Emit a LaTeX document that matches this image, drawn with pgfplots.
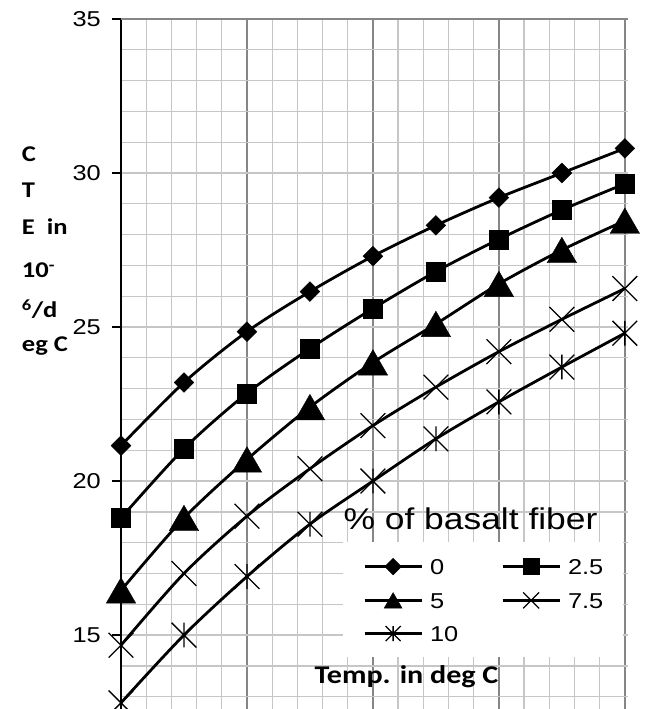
\documentclass[border=0pt]{standalone}
\usepackage{fontspec}
\setmainfont[FakeStretch=1.18]{Liberation Sans}
\newfontfamily\calfont[FakeStretch=1.18]{Carlito}
\usepackage{pgfplots}
\pgfplotsset{compat=1.18}
\usepackage{pgfplotstable}

\definecolor{gridlight}{RGB}{198,198,198}
\definecolor{gridmajor}{RGB}{134,134,134}

\pgfdeclareplotmark{xstar}{%
  \pgfpathmoveto{\pgfqpoint{-.7071\pgfplotmarksize}{-.7071\pgfplotmarksize}}%
  \pgfpathlineto{\pgfqpoint{.7071\pgfplotmarksize}{.7071\pgfplotmarksize}}%
  \pgfpathmoveto{\pgfqpoint{-.7071\pgfplotmarksize}{.7071\pgfplotmarksize}}%
  \pgfpathlineto{\pgfqpoint{.7071\pgfplotmarksize}{-.7071\pgfplotmarksize}}%
  \pgfpathmoveto{\pgfqpoint{0pt}{-.7071\pgfplotmarksize}}%
  \pgfpathlineto{\pgfqpoint{0pt}{.7071\pgfplotmarksize}}%
  \pgfusepathqstroke}

\pgfplotstableread{
x y
0 21.15
1 23.2
2 24.85
3 26.15
4 27.3
5 28.3
6 29.2
7 30.0
8 30.8
}\sA
\pgfplotstableread{
x y
0 18.8
1 21.05
2 22.85
3 24.3
4 25.6
5 26.8
6 27.85
7 28.8
8 29.65
}\sB
\pgfplotstableread{
x y
0 16.45
1 18.8
2 20.7
3 22.4
4 23.85
5 25.1
6 26.4
7 27.5
8 28.45
}\sC
\pgfplotstableread{
x y
0 14.67
1 17.0
2 18.86
3 20.4
4 21.8
5 23.05
6 24.2
7 25.25
8 26.25
}\sD
\pgfplotstableread{
x y
0 12.8
1 15.0
2 16.9
3 18.6
4 20.0
5 21.37
6 22.57
7 23.7
8 24.8
}\sE

\begin{document}
\begin{tikzpicture}
\begin{axis}[
  name=ax,
  scale only axis,
  width=507pt, height=690pt,
  xmin=0, xmax=8.05,
  ymin=12.6, ymax=35,
  axis line style={draw=none},
  xtick={2,4,6,8},
  xticklabels={},
  minor xtick={0.4,0.8,1.2,1.6,2.4,2.8,3.2,3.6,4.4,4.8,5.2,5.6,6.4,6.8,7.2,7.6},
  xmajorgrids, xminorgrids,
  ytick={15,20,25,30},
  minor ytick={13,14,15,16,17,18,19,20,21,22,23,24,25,26,27,28,29,30,31,32,33,34},
  ymajorgrids=false, yminorgrids,
  major grid style={gridmajor, line width=1.3pt},
  minor grid style={gridlight, line width=1.3pt},
  xtick style={draw=none},
  ytick style={black, line width=1.3pt},
  ytick pos=left,
  tick align=outside,
  major tick length=9pt,
  minor tick length=0pt,
  /pgf/number format/assume math mode=true,
  yticklabel style={font=\fontsize{21.5}{21.5}\selectfont, inner sep=0pt, xshift=-11pt},
  extra x ticks={0},
  extra x tick labels={},
  extra x tick style={grid=major, major grid style={black, line width=1.6pt}},
  extra y ticks={35},
  extra y tick style={grid=major, major grid style={gridmajor, line width=1.6pt}},
  legend image code/.code={\draw[mark repeat=2,mark phase=2] plot coordinates {(0pt,0pt) (28.5pt,0pt) (57pt,0pt)};},
  legend columns=2,
  legend cell align=left,
  legend style={
    at={(axis description cs:0.4379,0.2420)}, anchor=north west,
    fill=white, draw=none,
    inner xsep=20pt, inner ysep=16pt,
    column sep=7pt, row sep=17.5pt,
    nodes={inner sep=0pt, text height=15.4pt, text depth=0pt, font=\fontsize{21.5}{21.5}\selectfont},
    /tikz/every even column/.append style={column sep=43pt},
  },
]
\addplot[black, line width=2.8pt, smooth, tension=0.5, mark=square*, mark size=7pt,
  mark options={solid, rotate=45, line width=0.4pt}, forget plot] table {\sA};
\addplot[black, line width=2.8pt, smooth, tension=0.5, mark=square*, mark size=9.5pt,
  mark options={solid, line width=0.4pt}, forget plot] table {\sB};
\addplot[black, line width=2.8pt, smooth, tension=0.5, mark=triangle*, mark size=17pt,
  mark options={solid, line width=0.4pt, yshift=-4.2pt}, forget plot] table {\sC};
\addplot[black, line width=2.8pt, smooth, tension=0.5, mark=x, mark size=17.5pt,
  mark options={solid, line width=1.3pt}, forget plot] table {\sD};
\addplot[black, line width=2.8pt, smooth, tension=0.5, mark=xstar, mark size=17.5pt,
  mark options={solid, line width=1.3pt}, forget plot] table {\sE};

\addlegendimage{black, line width=2.8pt, mark=square*, mark size=5.9pt, mark options={rotate=45, line width=0.4pt}}
\addlegendentry{0}
\addlegendimage{black, line width=2.8pt, mark=square*, mark size=8pt, mark options={line width=0.4pt}}
\addlegendentry{2.5}
\addlegendimage{black, line width=2.8pt, mark=triangle*, mark size=10.4pt, mark options={line width=0.4pt, yshift=-2.6pt}}
\addlegendentry{5}
\addlegendimage{black, line width=2.8pt, mark=x, mark size=11.3pt, mark options={line width=1.3pt}}
\addlegendentry{7.5}
\addlegendimage{black, line width=2.8pt, mark=xstar, mark size=10.6pt, mark options={line width=1.3pt}}
\addlegendentry{10}
\end{axis}

% legend title and axis titles
\node[anchor=base, inner sep=0pt, font=\fontsize{30}{30}\selectfont]
  at ([xshift=349.5pt, yshift=-511pt]ax.north west) {\% of basalt fiber};
\node[anchor=base, inner sep=0pt, font=\calfont\bfseries\fontsize{25.5}{25.5}\selectfont]
  at ([xshift=285.5pt, yshift=-664pt]ax.north west) {Temp. in deg C};

\begin{scope}[every node/.style={anchor=base west, inner sep=0pt, font=\calfont\bfseries\fontsize{22.5}{22.5}\selectfont}]
\node at ([xshift=-99.3pt, yshift=-142.7pt]ax.north west) {C};
\node at ([xshift=-99.3pt, yshift=-179pt]ax.north west) {T};
\node at ([xshift=-99.3pt, yshift=-216pt]ax.north west) {E\ \ in};
\node at ([xshift=-99.3pt, yshift=-259pt]ax.north west) {10\textsuperscript{-}};
\node at ([xshift=-99.3pt, yshift=-299pt]ax.north west) {\textsuperscript{6}/d};
\node at ([xshift=-99.3pt, yshift=-333pt]ax.north west) {eg C};
\end{scope}

\pgfresetboundingbox
\useasboundingbox ([xshift=-121pt, yshift=709pt]ax.south west) rectangle ([xshift=530pt]ax.south west);
\end{tikzpicture}
\end{document}
